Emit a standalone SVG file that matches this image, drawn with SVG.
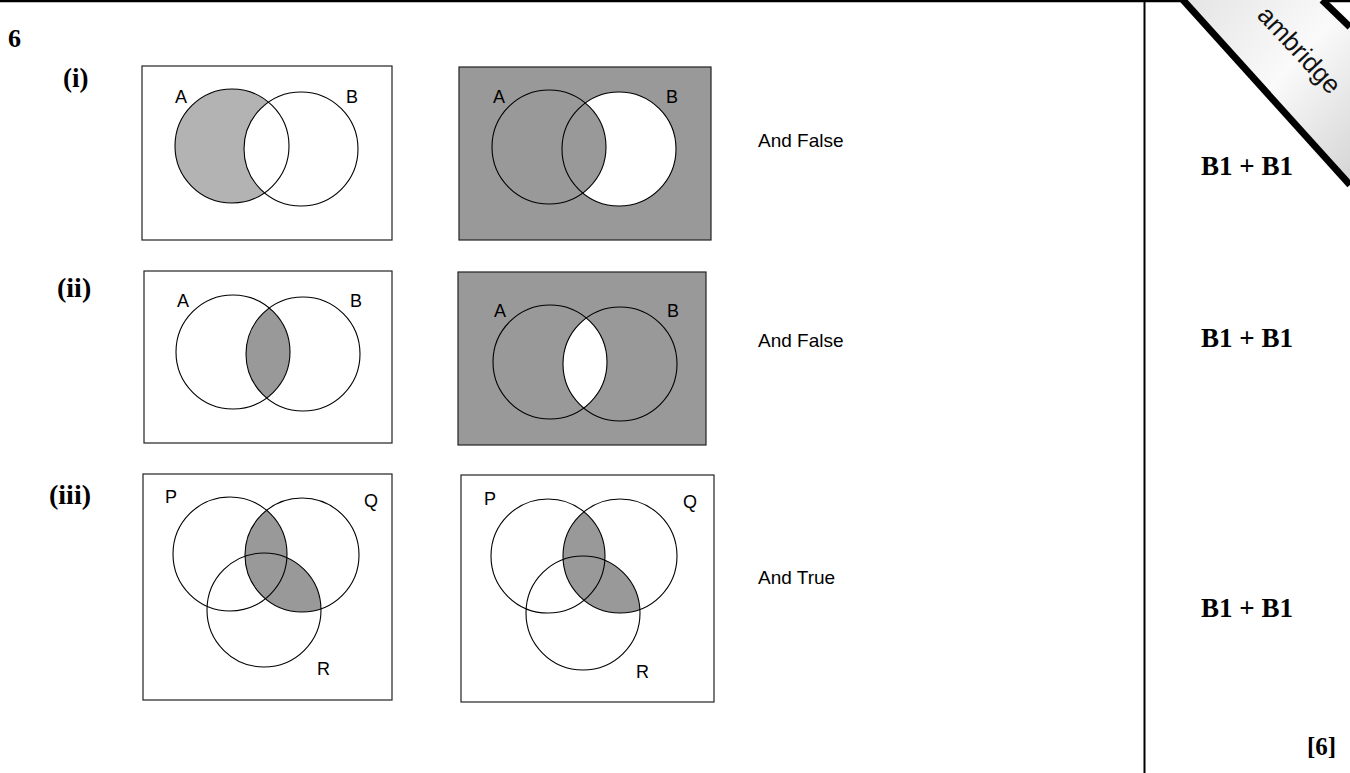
<svg xmlns="http://www.w3.org/2000/svg" width="1350" height="773" viewBox="0 0 1350 773">
<style>
.frame{fill:#fff;stroke:#222;stroke-width:1.2}
.dark{fill:#999;stroke:#222;stroke-width:1.2}
.c{fill:none;stroke:#000;stroke-width:1.1}
.lbl{font-family:"Liberation Sans",Arial,sans-serif;font-size:18px;fill:#000}
.ans{font-family:"Liberation Sans",Arial,sans-serif;font-size:19px;fill:#000}
.num{font-family:"Liberation Serif","Times New Roman",serif;font-weight:bold;fill:#000}
</style>
<defs>
<clipPath id="cp2a"><circle cx="303" cy="354" r="57"/></clipPath>
<clipPath id="cp2b"><circle cx="620" cy="364" r="57"/></clipPath>
<clipPath id="cp3a"><circle cx="302" cy="555" r="57"/></clipPath>
<clipPath id="cp3b"><circle cx="620" cy="556" r="57"/></clipPath>
<linearGradient id="rib" x1="0" y1="0" x2="1" y2="1">
<stop offset="0" stop-color="#e4e4e4"/><stop offset="0.5" stop-color="#fafafa"/><stop offset="1" stop-color="#d4d4d4"/>
</linearGradient>
</defs>
<rect width="1350" height="773" fill="#fff"/>
<!-- page lines -->
<line x1="0" y1="1" x2="1350" y2="1" stroke="#000" stroke-width="2.5"/>
<line x1="1144.5" y1="0" x2="1144.5" y2="773" stroke="#000" stroke-width="2"/>
<!-- ribbon -->
<g id="ribbon">
<polygon points="1183,0 1325,0 1350,24 1350,185" fill="url(#rib)"/>
<line x1="1183" y1="0" x2="1350" y2="185" stroke="#000" stroke-width="7"/>
<line x1="1322" y1="0" x2="1350" y2="27" stroke="#000" stroke-width="7"/>
<text transform="translate(1293,56) rotate(47)" text-anchor="middle" font-family="Liberation Sans,Arial,sans-serif" font-size="26" fill="#111">ambridge</text>
</g>
<text class="num" x="8" y="47" font-size="26">6</text>
<text class="num" x="63" y="87" font-size="27">(i)</text>
<text class="num" x="57" y="297" font-size="28">(ii)</text>
<text class="num" x="49" y="504" font-size="28">(iii)</text>
<!-- (i) left -->
<g id="p1a">
<rect class="frame" x="142" y="66" width="250" height="174"/>
<circle cx="232" cy="146" r="57" fill="#b3b3b3"/>
<circle cx="301" cy="149" r="57" fill="#fff"/>
<circle class="c" cx="232" cy="146" r="57"/>
<circle class="c" cx="301" cy="149" r="57"/>
<text class="lbl" x="175" y="103">A</text>
<text class="lbl" x="346" y="103">B</text>
</g>
<!-- (i) right -->
<g id="p1b">
<rect class="dark" x="459" y="67" width="252" height="173"/>
<circle cx="619" cy="149" r="57" fill="#fff"/>
<circle cx="549" cy="147" r="57" fill="#999"/>
<circle class="c" cx="549" cy="147" r="57"/>
<circle class="c" cx="619" cy="149" r="57"/>
<text class="lbl" x="493" y="103">A</text>
<text class="lbl" x="666" y="103">B</text>
</g>
<text class="ans" x="758" y="147">And False</text>
<!-- (ii) left -->
<g id="p2a">
<rect class="frame" x="144" y="271" width="248" height="172"/>
<circle cx="233" cy="352" r="57" fill="#999" clip-path="url(#cp2a)"/>
<circle class="c" cx="233" cy="352" r="57"/>
<circle class="c" cx="303" cy="354" r="57"/>
<text class="lbl" x="177" y="307">A</text>
<text class="lbl" x="350" y="307">B</text>
</g>
<!-- (ii) right -->
<g id="p2b">
<rect class="dark" x="458" y="272" width="248" height="173"/>
<circle cx="550" cy="362" r="57" fill="#fff" clip-path="url(#cp2b)"/>
<circle class="c" cx="550" cy="362" r="57"/>
<circle class="c" cx="620" cy="364" r="57"/>
<text class="lbl" x="494" y="317">A</text>
<text class="lbl" x="667" y="317">B</text>
</g>
<text class="ans" x="758" y="347">And False</text>
<!-- (iii) left -->
<g id="p3a">
<rect class="frame" x="143" y="474" width="249" height="226"/>
<g clip-path="url(#cp3a)" fill="#999">
<circle cx="230" cy="554" r="57"/>
<circle cx="264" cy="610" r="57"/>
</g>
<circle class="c" cx="230" cy="554" r="57"/>
<circle class="c" cx="302" cy="555" r="57"/>
<circle class="c" cx="264" cy="610" r="57"/>
<text class="lbl" x="165" y="503">P</text>
<text class="lbl" x="364" y="507">Q</text>
<text class="lbl" x="317" y="675">R</text>
</g>
<!-- (iii) right -->
<g id="p3b">
<rect class="frame" x="461" y="475" width="253" height="227"/>
<g clip-path="url(#cp3b)" fill="#999">
<circle cx="548" cy="556" r="57"/>
<circle cx="583" cy="613" r="57"/>
</g>
<circle class="c" cx="548" cy="556" r="57"/>
<circle class="c" cx="620" cy="556" r="57"/>
<circle class="c" cx="583" cy="613" r="57"/>
<text class="lbl" x="484" y="505">P</text>
<text class="lbl" x="683" y="508">Q</text>
<text class="lbl" x="636" y="678">R</text>
</g>
<text class="ans" x="758" y="584">And True</text>
<!-- marks -->
<text class="num" x="1201" y="175" font-size="27">B1 + B1</text>
<text class="num" x="1201" y="347" font-size="27">B1 + B1</text>
<text class="num" x="1201" y="617" font-size="27">B1 + B1</text>
<text class="num" x="1307" y="755" font-size="25">[6]</text>
</svg>
